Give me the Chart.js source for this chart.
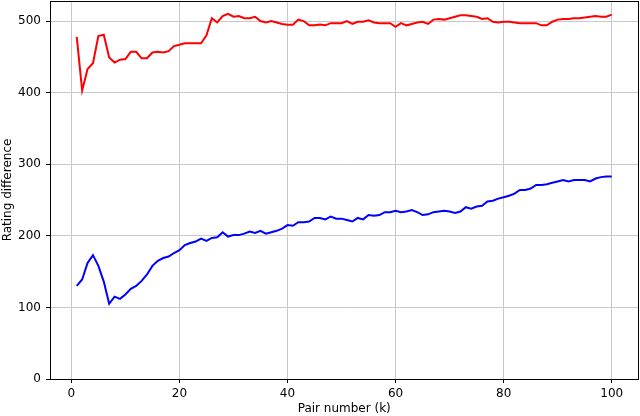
<!DOCTYPE html>
<html>
<head>
<meta charset="utf-8">
<script src="https://cdn.jsdelivr.net/npm/chart.js@4/dist/chart.umd.min.js"></script>
<style>
html,body{margin:0;padding:0;background:#fff;}
#wrap{width:640px;height:416px;}
</style>
</head>
<body>
<div id="wrap"><canvas id="c" width="640" height="416"></canvas></div>
<script>
const pairNumbers = Array.from({length:100},(_,i)=>i+1);
const redSeries = [478,403,433,441,479,481,449,442,446,447,457,457,448,448,456,457,456,458,465,467,
469,469,469,469,480,504,498,507,510,506,507,504,504,506,500,498,500,498,496,495,
495,502,500,494,494,495,494,497,497,497,500,496,499,499,501,498,497,497,497,492,
497,494,496,498,499,496,502,503,502,504,506,508,508,507,506,503,504,499,498,499,
499,498,497,497,497,497,494,494,499,502,503,503,504,504,505,506,507,506,506,509];
const blueSeries = [130,139,162,173,158,136,105,115,112,118,126,130,137,146,158,165,169,171,176,180,
187,190,192,196,193,197,198,205,199,201,201,203,206,204,207,203,205,207,210,215,
214,219,219,220,225,225,223,227,224,224,222,220,225,223,229,228,229,233,233,235,
233,234,236,233,229,230,233,234,235,234,232,234,240,238,241,242,248,249,252,254,
256,259,264,264,266,271,271,272,274,276,278,276,278,278,278,276,280,282,283,283];
const xTicks = [0,20,40,60,80,100];
const yTicks = [0,100,200,300,400,500];
const xLabel = 'Pair number (k)';
const yLabel = 'Rating difference';

const font = {family:'DejaVu Sans', size:12};
const frame = {
  id:'frame',
  afterDatasetsDraw(chart){
    const {ctx, chartArea:a} = chart;
    ctx.save();
    ctx.strokeStyle = '#000';
    ctx.lineWidth = 1;
    ctx.strokeRect(Math.round(a.left)+0.5, Math.round(a.top)+0.5, Math.round(a.right-a.left)-1, Math.round(a.bottom-a.top));
    ctx.restore();
  }
};

new Chart(document.getElementById('c'), {
  type:'line',
  data:{
    datasets:[
      {data:pairNumbers.map((k,i)=>({x:k,y:redSeries[i]})), borderColor:'#ff0000', borderWidth:2, pointRadius:0, tension:0, fill:false},
      {data:pairNumbers.map((k,i)=>({x:k,y:blueSeries[i]})), borderColor:'#0000ff', borderWidth:2, pointRadius:0, tension:0, fill:false}
    ]
  },
  options:{
    responsive:false,
    devicePixelRatio:1,
    animation:false,
    layout:{padding:{top:1,right:1.5,left:0,bottom:0}},
    plugins:{legend:{display:false}, tooltip:{enabled:false}},
    scales:{
      x:{
        type:'linear', min:-3.95, max:104.95,
        afterBuildTicks:s=>{s.ticks = xTicks.map(v=>({value:v}));},
        afterFit:s=>{s.height = 37; s.paddingLeft = 0; s.paddingRight = 0;},
        grid:{color:'#c8c8c8', lineWidth:1, tickColor:'#000', tickLength:4, drawTicks:true},
        border:{display:false},
        ticks:{font, color:'#000', padding:4, maxRotation:0, autoSkip:false},
        title:{display:true, text:xLabel, font, color:'#000', padding:{top:0,bottom:0}}
      },
      y:{
        type:'linear', min:0, max:528,
        afterBuildTicks:s=>{s.ticks = yTicks.map(v=>({value:v}));},
        afterFit:s=>{s.width = 50; s.paddingTop = 0; s.paddingBottom = 0;},
        grid:{color:'#c8c8c8', lineWidth:1, tickColor:'#000', tickLength:4, drawTicks:true},
        border:{display:false},
        ticks:{font, color:'#000', padding:5, autoSkip:false},
        title:{display:true, text:yLabel, font, color:'#000', padding:{top:1,bottom:0}}
      }
    }
  },
  plugins:[frame]
});
</script>
</body>
</html>
